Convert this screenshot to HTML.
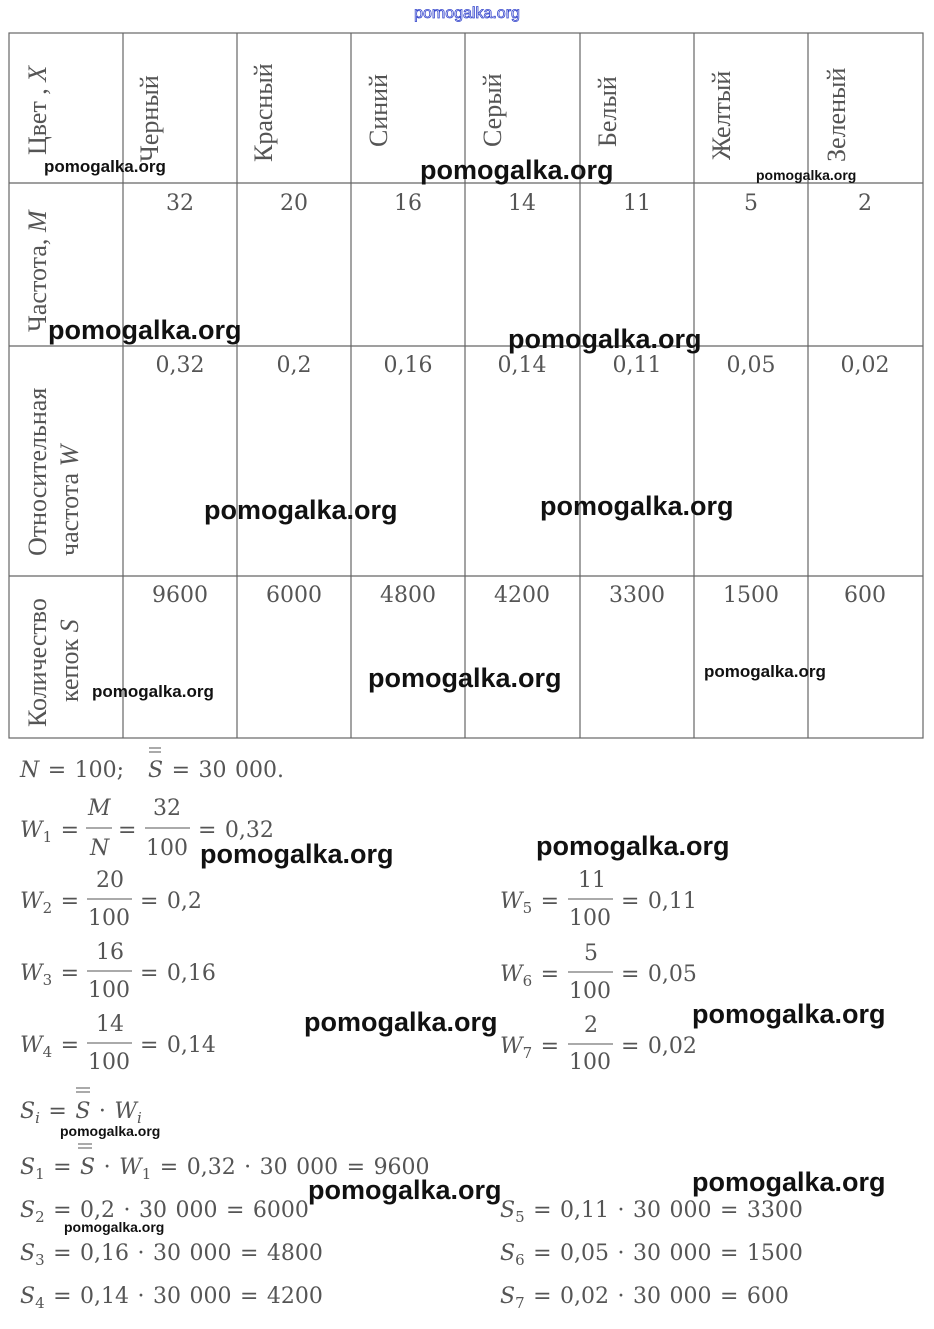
<!DOCTYPE html>
<html><head><meta charset="utf-8"><style>
body{margin:0;background:#fff}
svg{display:block}
.t{font-family:"Liberation Serif",serif;font-size:26px;fill:#555}
.n{font-family:"DejaVu Serif","Liberation Serif",serif;font-size:22px;fill:#555;word-spacing:1.5px}
.i{font-style:italic}
.wm{font-family:"Liberation Sans",sans-serif;font-weight:bold;fill:#111}
.L{font-size:27px}.S{font-size:17px}
</style></head><body>
<svg width="934" height="1329" viewBox="0 0 934 1329">
<text x="467" y="18" text-anchor="middle" font-family="Liberation Sans,sans-serif" font-size="16" fill="#fff" stroke="#3344cc" stroke-width="0.8">pomogalka.org</text>
<g stroke="#666" stroke-width="1.2" fill="none">
<rect x="9" y="33" width="914" height="705"/>
<line x1="123" y1="33" x2="123" y2="738"/><line x1="237" y1="33" x2="237" y2="738"/>
<line x1="351" y1="33" x2="351" y2="738"/><line x1="465" y1="33" x2="465" y2="738"/>
<line x1="580" y1="33" x2="580" y2="738"/><line x1="694" y1="33" x2="694" y2="738"/>
<line x1="808" y1="33" x2="808" y2="738"/>
<line x1="9" y1="183" x2="923" y2="183"/><line x1="9" y1="346" x2="923" y2="346"/>
<line x1="9" y1="576" x2="923" y2="576"/>
</g>
<g class="t">
<text transform="translate(46,155) rotate(-90)">Цвет , <tspan class="i">X</tspan></text>
<text transform="translate(158,162) rotate(-90)">Черный</text>
<text transform="translate(272,162) rotate(-90)">Красный</text>
<text transform="translate(387,147) rotate(-90)">Синий</text>
<text transform="translate(501,147) rotate(-90)">Серый</text>
<text transform="translate(616,147) rotate(-90)">Белый</text>
<text transform="translate(730,160) rotate(-90)">Желтый</text>
<text transform="translate(845,162) rotate(-90)">Зеленый</text>
<text transform="translate(46,332) rotate(-90)">Частота, <tspan class="i">M</tspan></text>
<text transform="translate(46,556) rotate(-90)">Относительная</text>
<text transform="translate(78,556) rotate(-90)">частота <tspan class="i">W</tspan></text>
<text transform="translate(46,727) rotate(-90)">Количество</text>
<text transform="translate(78,702) rotate(-90)">кепок <tspan class="i">S</tspan></text>
</g>
<g class="n" text-anchor="middle">
<text x="180" y="210">32</text><text x="294" y="210">20</text><text x="408" y="210">16</text><text x="522" y="210">14</text><text x="637" y="210">11</text><text x="751" y="210">5</text><text x="865" y="210">2</text>
<text x="180" y="372">0,32</text><text x="294" y="372">0,2</text><text x="408" y="372">0,16</text><text x="522" y="372">0,14</text><text x="637" y="372">0,11</text><text x="751" y="372">0,05</text><text x="865" y="372">0,02</text>
<text x="180" y="602">9600</text><text x="294" y="602">6000</text><text x="408" y="602">4800</text><text x="522" y="602">4200</text><text x="637" y="602">3300</text><text x="751" y="602">1500</text><text x="865" y="602">600</text>
</g>
<g class="n">
<text x="20" y="777"><tspan class="i">N</tspan> = 100;</text>
<text x="148" y="777"><tspan class="i">S</tspan> = 30 000.</text>
<line x1="149" y1="748" x2="161" y2="748" stroke="#555"/><line x1="149" y1="752" x2="161" y2="752" stroke="#555"/>
<text x="20" y="837"><tspan class="i">W</tspan><tspan font-size="15" dy="5">1</tspan><tspan dy="-5"> =</tspan></text>
<text x="88" y="815" class="i">M</text><text x="90" y="855" class="i">N</text><line x1="86" y1="828" x2="112" y2="828" stroke="#555"/>
<text x="118" y="837">=</text>
<text x="153" y="815">32</text><text x="146" y="855">100</text><line x1="145" y1="828" x2="190" y2="828" stroke="#555"/>
<text x="198" y="837">= 0,32</text>
<text x="20" y="908"><tspan class="i">W</tspan><tspan font-size="15" dy="5">2</tspan><tspan dy="-5"> =</tspan></text>
<text x="96" y="887">20</text><text x="88" y="925">100</text><line x1="87" y1="899" x2="132" y2="899" stroke="#555"/><text x="140" y="908">= 0,2</text>
<text x="20" y="980"><tspan class="i">W</tspan><tspan font-size="15" dy="5">3</tspan><tspan dy="-5"> =</tspan></text>
<text x="96" y="959">16</text><text x="88" y="997">100</text><line x1="87" y1="971" x2="132" y2="971" stroke="#555"/><text x="140" y="980">= 0,16</text>
<text x="20" y="1052"><tspan class="i">W</tspan><tspan font-size="15" dy="5">4</tspan><tspan dy="-5"> =</tspan></text>
<text x="96" y="1031">14</text><text x="88" y="1069">100</text><line x1="87" y1="1043" x2="132" y2="1043" stroke="#555"/><text x="140" y="1052">= 0,14</text>
<text x="500" y="908"><tspan class="i">W</tspan><tspan font-size="15" dy="5">5</tspan><tspan dy="-5"> =</tspan></text>
<text x="578" y="887">11</text><text x="569" y="925">100</text><line x1="568" y1="899" x2="613" y2="899" stroke="#555"/><text x="621" y="908">= 0,11</text>
<text x="500" y="981"><tspan class="i">W</tspan><tspan font-size="15" dy="5">6</tspan><tspan dy="-5"> =</tspan></text>
<text x="584" y="960">5</text><text x="569" y="998">100</text><line x1="568" y1="972" x2="613" y2="972" stroke="#555"/><text x="621" y="981">= 0,05</text>
<text x="500" y="1053"><tspan class="i">W</tspan><tspan font-size="15" dy="5">7</tspan><tspan dy="-5"> =</tspan></text>
<text x="584" y="1032">2</text><text x="569" y="1069">100</text><line x1="568" y1="1044" x2="613" y2="1044" stroke="#555"/><text x="621" y="1053">= 0,02</text>
<text x="20" y="1118"><tspan class="i">S</tspan><tspan font-size="15" dy="5" class="i">i</tspan><tspan dy="-5"> = </tspan><tspan class="i">S</tspan> · <tspan class="i">W</tspan><tspan font-size="15" dy="5" class="i">i</tspan></text>
<line x1="76" y1="1088" x2="90" y2="1088" stroke="#555"/><line x1="76" y1="1092" x2="90" y2="1092" stroke="#555"/>
<text x="20" y="1174"><tspan class="i">S</tspan><tspan font-size="15" dy="5">1</tspan><tspan dy="-5"> = </tspan><tspan class="i">S</tspan> · <tspan class="i">W</tspan><tspan font-size="15" dy="5">1</tspan><tspan dy="-5"> = 0,32 · 30 000 = 9600</tspan></text>
<line x1="78" y1="1144" x2="92" y2="1144" stroke="#555"/><line x1="78" y1="1148" x2="92" y2="1148" stroke="#555"/>
<text x="20" y="1217"><tspan class="i">S</tspan><tspan font-size="15" dy="5">2</tspan><tspan dy="-5"> = 0,2 · 30 000 = 6000</tspan></text>
<text x="20" y="1260"><tspan class="i">S</tspan><tspan font-size="15" dy="5">3</tspan><tspan dy="-5"> = 0,16 · 30 000 = 4800</tspan></text>
<text x="20" y="1303"><tspan class="i">S</tspan><tspan font-size="15" dy="5">4</tspan><tspan dy="-5"> = 0,14 · 30 000 = 4200</tspan></text>
<text x="500" y="1217"><tspan class="i">S</tspan><tspan font-size="15" dy="5">5</tspan><tspan dy="-5"> = 0,11 · 30 000 = 3300</tspan></text>
<text x="500" y="1260"><tspan class="i">S</tspan><tspan font-size="15" dy="5">6</tspan><tspan dy="-5"> = 0,05 · 30 000 = 1500</tspan></text>
<text x="500" y="1303"><tspan class="i">S</tspan><tspan font-size="15" dy="5">7</tspan><tspan dy="-5"> = 0,02 · 30 000 = 600</tspan></text>
</g>
<g class="wm">
<text class="S" x="44" y="172">pomogalka.org</text>
<text class="L" x="420" y="179">pomogalka.org</text>
<text x="756" y="180" font-size="14">pomogalka.org</text>
<text class="L" x="48" y="339">pomogalka.org</text>
<text class="L" x="508" y="348">pomogalka.org</text>
<text class="L" x="204" y="519">pomogalka.org</text>
<text class="L" x="540" y="515">pomogalka.org</text>
<text class="S" x="92" y="697">pomogalka.org</text>
<text class="L" x="368" y="687">pomogalka.org</text>
<text class="S" x="704" y="677">pomogalka.org</text>
<text class="L" x="200" y="863">pomogalka.org</text>
<text class="L" x="536" y="855">pomogalka.org</text>
<text class="L" x="304" y="1031">pomogalka.org</text>
<text class="L" x="692" y="1023">pomogalka.org</text>
<text x="60" y="1136" font-size="14">pomogalka.org</text>
<text class="L" x="308" y="1199">pomogalka.org</text>
<text class="L" x="692" y="1191">pomogalka.org</text>
<text x="64" y="1232" font-size="14">pomogalka.org</text>
</g>
</svg>
</body></html>
